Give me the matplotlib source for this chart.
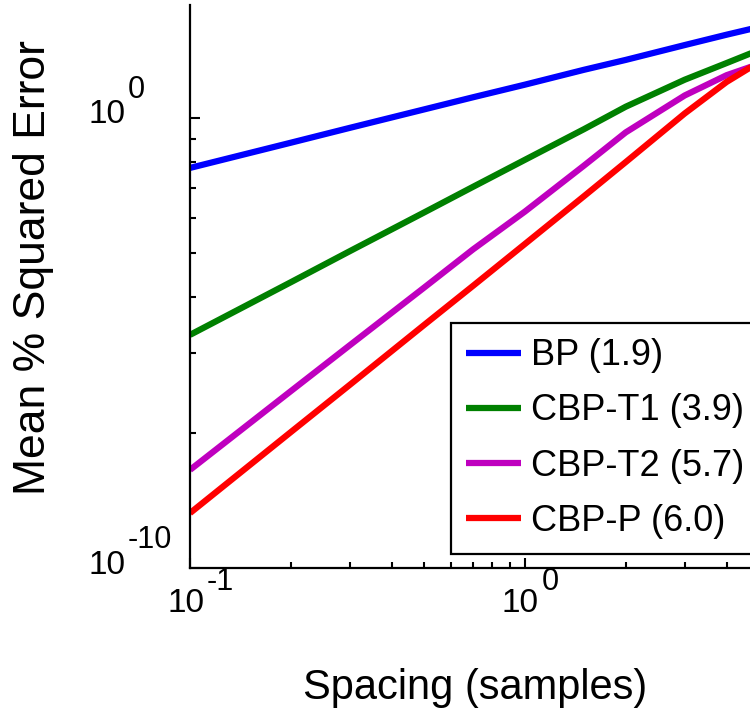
import numpy as np
import matplotlib
matplotlib.use('Agg')
import matplotlib.pyplot as plt
from matplotlib.ticker import NullFormatter

# spacing (samples) and log10 of mean % squared error
spacing = [0.1, 0.2, 0.3, 0.5, 0.7, 1.0, 1.5, 2.0, 3.0, 4.0, 5.0]
bp_log = [-1.11, -0.55, -0.22, 0.19, 0.46, 0.74, 1.07, 1.29, 1.62, 1.85, 2.02]
t1_log = [-4.82, -3.65, -2.96, -2.10, -1.53, -0.93, -0.25, 0.25, 0.85, 1.22, 1.51]
t2_log = [-7.82, -6.07, -5.05, -3.77, -2.92, -2.08, -1.06, -0.32, 0.50, 0.95, 1.20]
p_log = [-8.78, -6.98, -5.93, -4.60, -3.73, -2.80, -1.74, -0.98, 0.10, 0.80, 1.24]

labels = ['BP (1.9)', 'CBP-T1 (3.9)', 'CBP-T2 (5.7)', 'CBP-P (6.0)']
colors = ['#0000ff', '#008000', '#bf00bf', '#ff0000']

xtick_exp = ['-1', '0']
ytick_exp = ['-10', '0']

plt.rcParams['font.family'] = ['Liberation Sans', 'DejaVu Sans']

fig = plt.figure(figsize=(7.5, 7.13), dpi=100)
ax = fig.add_axes([190 / 750, 145 / 713, 560 / 750, 563 / 713])

series = [bp_log, t1_log, t2_log, p_log]
for vals, lab, col in zip(series, labels, colors):
    ax.plot(spacing, 10.0 ** np.array(vals), color=col, lw=4.5, label=lab,
            solid_capstyle='butt')

ax.set_xscale('log')
ax.set_yscale('log')
ax.set_xlim(0.1, 10 ** 0.672)
ax.set_ylim(1e-10, 10 ** 2.51)

# ticks (matlab style, inward)
ax.set_xticks([0.1, 1.0])
ax.set_xticks([k * 0.1 for k in range(2, 10)] + [2.0, 3.0, 4.0], minor=True)
ax.set_yticks([1e-10, 1.0])
ax.set_yticks([10 ** (10 * np.log10(k) - 10) for k in range(2, 10)], minor=True)
ax.set_xticklabels([])
ax.set_yticklabels([])
ax.xaxis.set_minor_formatter(NullFormatter())
ax.yaxis.set_minor_formatter(NullFormatter())
ax.tick_params(which='both', direction='in', width=1.5, colors='black')
ax.tick_params(which='major', length=7)
ax.tick_params(which='minor', length=4)

for side in ['top', 'right']:
    ax.spines[side].set_visible(False)
for side in ['left', 'bottom']:
    ax.spines[side].set_linewidth(1.6)

# tick labels as 10 + raised exponent
for t, e in zip([0.1, 1.0], xtick_exp):
    ax.annotate('10', xy=(t, 0), xycoords=('data', 'axes fraction'),
                xytext=(14, -35), textcoords='offset pixels',
                ha='right', va='center', fontsize=24)
    ax.annotate(e, xy=(t, 0), xycoords=('data', 'axes fraction'),
                xytext=(17, -14), textcoords='offset pixels',
                ha='left', va='center', fontsize=22)
for t, e in zip([1e-10, 1.0], ytick_exp):
    ax.annotate('10', xy=(0, t), xycoords=('axes fraction', 'data'),
                xytext=(-65, 3), textcoords='offset pixels',
                ha='right', va='center', fontsize=24)
    ax.annotate(e, xy=(0, t), xycoords=('axes fraction', 'data'),
                xytext=(-62, 28), textcoords='offset pixels',
                ha='left', va='center', fontsize=22)

fig.text(475 / 750, 1 - 688 / 713, 'Spacing (samples)', ha='center', va='center', fontsize=30)
fig.text(34 / 750, 1 - 268 / 713, 'Mean % Squared Error', ha='center', va='center',
         rotation=90, fontsize=32)

leg = ax.legend(loc='upper left', bbox_to_anchor=(0.466, 0.435), borderaxespad=0,
                fontsize=26, handlelength=1.53, handletextpad=0.28, borderpad=0.42,
                labelspacing=0.56, fancybox=False, framealpha=1)
leg.get_frame().set_edgecolor('black')
leg.get_frame().set_linewidth(1.6)

fig.savefig('out.png', dpi=100)
